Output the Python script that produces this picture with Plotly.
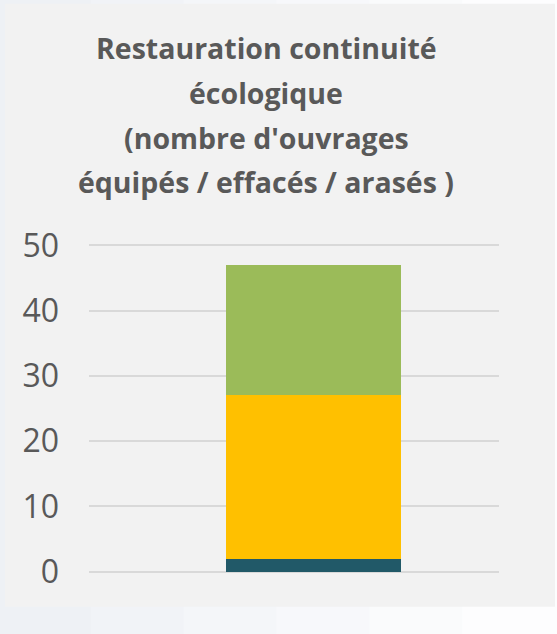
import plotly.graph_objects as go

categories = ["Ouvrages"]
series_names = ["équipés", "effacés", "arasés"]
series_values = [[2], [25], [20]]
series_colors = ["#215968", "#FFC000", "#9BBB59"]
y_ticks = [0, 10, 20, 30, 40, 50]
title_lines = [
    "Restauration continuité",
    "écologique",
    "(nombre d'ouvrages",
    "équipés / effacés / arasés )",
]

W, H = 557, 634
Y0PX, Y50PX = 572.0, 245.0
UNIT = (Y0PX - Y50PX) / 50.0
PADU = 0.2
ML, MR = 89, 58
MT = Y50PX - PADU * UNIT
MB = H - (Y0PX + PADU * UNIT)
PW, PH = W - ML - MR, H - MT - MB

fig = go.Figure()
for name, vals, col in zip(series_names, series_values, series_colors):
    fig.add_trace(go.Bar(x=categories, y=vals, name=name, marker=dict(color=col, line=dict(width=0)),
                         width=0.427, hoverinfo="skip"))

def px_x(p):
    return (p - ML) / PW

def px_y(p):
    return (H - MB - p) / PH

shapes = []
# light bluish-white page background below the chart, fading to white on the right
strip_cols = ["#EEF1F5", "#F1F3F7", "#F4F6F9", "#F7F8FB", "#FAFBFC", "#FDFDFE"]
n = len(strip_cols)
for i, c in enumerate(strip_cols):
    shapes.append(dict(type="rect", xref="paper", yref="paper", layer="below",
                       x0=px_x(-2 + i * W / n), x1=px_x(-2 + (i + 1) * W / n + 2),
                       y0=px_y(H + 2), y1=px_y(-2), fillcolor=c, line=dict(width=0)))
shapes.append(dict(type="rect", xref="paper", yref="paper", layer="below",
                   x0=px_x(5), x1=px_x(555), y0=px_y(607), y1=px_y(3),
                   fillcolor="#F2F2F2", line=dict(width=0)))

baselines = [60, 105, 151, 195]
annotations = []
for line, b in zip(title_lines, baselines):
    annotations.append(dict(text="<b>" + line + "</b>", xref="paper", yref="paper",
                            x=px_x(266), y=px_y(b + 8), xanchor="center", yanchor="bottom",
                            showarrow=False,
                            font=dict(family="Open Sans", size=28.5, color="#595959")))

fig.update_layout(
    width=W, height=H,
    margin=dict(l=ML, r=MR, t=MT, b=MB, pad=0),
    barmode="stack",
    showlegend=False,
    paper_bgcolor="#F6F8FA",
    plot_bgcolor="rgba(0,0,0,0)",
    shapes=shapes,
    annotations=annotations,
    xaxis=dict(range=[-0.5476, 0.4524], showticklabels=False, showgrid=False, zeroline=False,
               showline=False, fixedrange=True),
    yaxis=dict(range=[-PADU, 50 + PADU], tickvals=y_ticks, showgrid=True, gridcolor="#D9D9D9",
               gridwidth=1.5, zeroline=False, showline=False, ticks="", ticklabelstandoff=29,
               tickfont=dict(family="Open Sans", size=32, color="#595959"), fixedrange=True),
)

fig.write_html("out.html", config={"displayModeBar": False},
               post_script="document.body.style.margin='0';")
